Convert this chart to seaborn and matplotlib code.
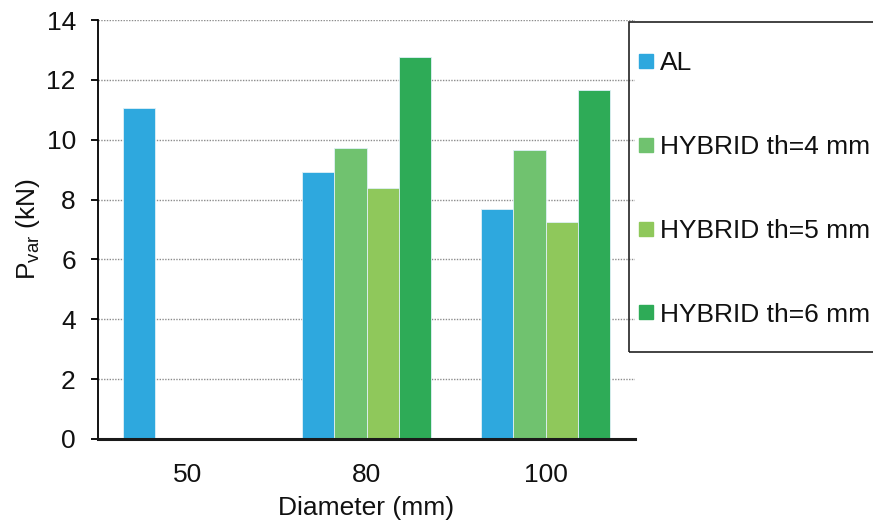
import numpy as np
import pandas as pd
import seaborn as sns
from matplotlib import pyplot as plt
from matplotlib.lines import Line2D
from matplotlib.patches import Rectangle

diameters = ["50", "80", "100"]
series = ["AL", "HYBRID th=4 mm", "HYBRID th=5 mm", "HYBRID th=6 mm"]
al = [11.05, 8.91, 7.67]
hybrid_4 = [np.nan, 9.72, 9.65]
hybrid_5 = [np.nan, 8.38, 7.24]
hybrid_6 = [np.nan, 12.77, 11.65]
colors = ["#2EA8DE", "#70C26F", "#8FC85B", "#2EAB57"]

rows = []
for name, vals in zip(series, [al, hybrid_4, hybrid_5, hybrid_6]):
    for d, v in zip(diameters, vals):
        rows.append({"Diameter": d, "Series": name, "P": v})
df = pd.DataFrame(rows)

sns.set_style("white")
plt.rcParams["font.family"] = ["Liberation Sans", "DejaVu Sans"]
plt.rcParams["mathtext.fontset"] = "custom"
plt.rcParams["mathtext.rm"] = "Liberation Sans"

FS = 19

fig = plt.figure(figsize=(8.73, 5.27), dpi=100)
ax = fig.add_axes([98 / 873, 1 - 439 / 527, (635 - 98) / 873, (439 - 20) / 527])

sns.barplot(data=df, x="Diameter", y="P", hue="Series", order=diameters,
            hue_order=series, palette=colors, saturation=1, width=0.72, ax=ax,
            edgecolor="#dff0f7", linewidth=0.6, legend=False)

ax.set_ylim(0, 14)
ax.set_yticks(np.arange(0, 15, 2))
ax.yaxis.grid(True, linestyle=(0, (1, 1)), color="#8c8c8c", linewidth=1.0)
ax.set_axisbelow(True)
for s in ["top", "right"]:
    ax.spines[s].set_visible(False)
ax.spines["left"].set_color("black")
ax.spines["left"].set_linewidth(1.3)
ax.spines["bottom"].set_color("#1a1a1a")
ax.spines["bottom"].set_linewidth(2.2)

ax.tick_params(axis="y", length=5, width=1.3, color="black", labelsize=FS,
               pad=11, left=True, direction="out", labelcolor="#111111")
ax.tick_params(axis="x", length=0, labelsize=FS, pad=17, labelcolor="#111111")

ax.set_xlabel("Diameter (mm)", fontsize=FS, labelpad=7, color="#111111")
ax.set_ylabel(r"P$_{\mathrm{var}}$ (kN)", fontsize=FS, labelpad=3, color="#111111")

# legend frame drawn as its own box, partly off the right edge
fig.patches.append(Rectangle((629 / 873, 1 - 352 / 527), 260 / 873, 330 / 527,
                             transform=fig.transFigure, fill=False,
                             edgecolor="#222222", linewidth=1.2, zorder=5))

handles = [Line2D([], [], linestyle="none", marker="s", markersize=10,
                  markerfacecolor=c, markeredgecolor=c) for c in colors]
leg = fig.legend(handles, series, loc="upper left",
                 bbox_to_anchor=(638 / 873, 1 - 51 / 527), fontsize=FS,
                 frameon=False, borderpad=0, handlelength=0.6,
                 handletextpad=0.25, labelspacing=2.27, borderaxespad=0)
for t in leg.get_texts():
    t.set_color("#111111")

fig.savefig("out.png", dpi=100)
